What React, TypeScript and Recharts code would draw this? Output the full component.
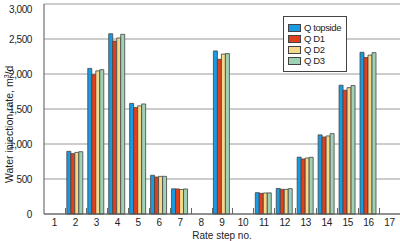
import { BarChart, Bar, XAxis, YAxis, CartesianGrid, Legend } from 'recharts';

const steps = ['1', '2', '3', '4', '5', '6', '7', '8', '9', '10', '11', '12', '13', '14', '15', '16', '17'];
const qTopside = [null, 895, 2080, 2575, 1580, 553, 360, null, 2330, null, 305, 365, 812, 1130, 1840, 2310, null];
const qD1 = [null, 862, 1990, 2470, 1520, 528, 358, null, 2210, null, 295, 352, 786, 1100, 1768, 2235, null];
const qD2 = [null, 880, 2045, 2515, 1545, 538, 350, null, 2285, null, 300, 352, 800, 1115, 1805, 2270, null];
const qD3 = [null, 890, 2062, 2567, 1572, 538, 358, null, 2292, null, 302, 362, 810, 1148, 1835, 2305, null];
const yTicks = [0, 500, 1000, 1500, 2000, 2500, 3000];

const series = [
  { key: 'topside', name: 'Q topside', color: '#1a9ae0' },
  { key: 'd1', name: 'Q D1', color: '#e0401c' },
  { key: 'd2', name: 'Q D2', color: '#f6d88a' },
  { key: 'd3', name: 'Q D3', color: '#9fd2b4' },
];

const data = steps.map((s, i) => ({
  step: s,
  topside: qTopside[i],
  d1: qD1[i],
  d2: qD2[i],
  d3: qD3[i],
}));

const FONT = "'Liberation Sans', Arial, sans-serif";
const BAND = 356 / 17;

// tick labels at the centre, small tick lines at the category boundaries
const renderXTick = (props: any) => {
  const { x, payload } = props;
  const bx = Math.round(x - BAND / 2) + 0.5;
  return (
    <g>
      {payload.index > 0 && (
        <line x1={bx} x2={bx} y1={214} y2={208} stroke="#666" strokeWidth={1} />
      )}
      <text x={x} y={226} textAnchor="middle" fill="#222" fontSize={10} letterSpacing={-0.3} fontFamily={FONT}>
        {payload.value}
      </text>
    </g>
  );
};

const renderYTick = (props: any) => {
  const { x, y, payload } = props;
  return (
    <text x={x - 4} y={y + 4} textAnchor="end" fill="#222" fontSize={10} letterSpacing={-0.4} fontFamily={FONT}>
      {payload.value.toLocaleString('en-US')}
    </text>
  );
};

// rotated axis title, starting at the bottom and reading upwards
const renderYLabel = () => (
  <text
    x={13}
    y={183}
    transform="rotate(-90, 13, 183)"
    textAnchor="start"
    fill="#222"
    fontSize={10.5}
    fontFamily={FONT}
  >
    Water injection rate, m<tspan dy={-4} fontSize={7}>3</tspan><tspan dy={4}>/d</tspan>
  </text>
);

const renderLegend = () => (
  <div
    style={{
      display: 'inline-block',
      background: '#fff',
      border: '1px solid #444',
      padding: '5px 5px 5px 4px',
      fontFamily: FONT,
      fontSize: 9.5,
      lineHeight: '11px',
      color: '#222',
      letterSpacing: -0.4,
      whiteSpace: 'nowrap',
    }}
  >
    {series.map((s) => (
      <div key={s.key} style={{ display: 'flex', alignItems: 'center', height: 11 }}>
        <span
          style={{
            display: 'inline-block',
            flex: 'none',
            width: 11,
            height: 6,
            background: s.color,
            border: '1px solid #444',
            marginRight: 3,
          }}
        />
        <span>{s.name}</span>
      </div>
    ))}
  </div>
);

export default function App() {
  return (
    <div style={{ position: 'absolute', left: 0, top: 0, width: 400, height: 241, background: '#fff' }}>
      <BarChart
        width={400}
        height={241}
        data={data}
        margin={{ top: 4, right: 0, left: 0, bottom: 0 }}
        barCategoryGap="9%"
        barGap={0}
      >
        <CartesianGrid vertical={false} stroke="#9a9a9a" strokeWidth={1} />
        <XAxis
          dataKey="step"
          height={27}
          axisLine={{ stroke: '#555' }}
          tickLine={false}
          tick={renderXTick}
          interval={0}
          label={{ value: 'Rate step no.', position: 'insideBottom', offset: 2, fill: '#222', fontSize: 10, fontFamily: FONT }}
        />
        <YAxis
          width={44}
          domain={[0, 3000]}
          ticks={yTicks}
          axisLine={{ stroke: '#555' }}
          tickLine={false}
          tick={renderYTick}
          label={renderYLabel}
        />
        <Legend
          layout="vertical"
          align="center"
          verticalAlign="middle"
          content={renderLegend}
          wrapperStyle={{ position: 'absolute', left: 283, top: 16, width: 'auto', margin: 0 }}
        />
        {series.map((s) => (
          <Bar
            key={s.key}
            dataKey={s.key}
            name={s.name}
            fill={s.color}
            stroke="#444"
            strokeWidth={0.8}
            isAnimationActive={false}
          />
        ))}
      </BarChart>
    </div>
  );
}
